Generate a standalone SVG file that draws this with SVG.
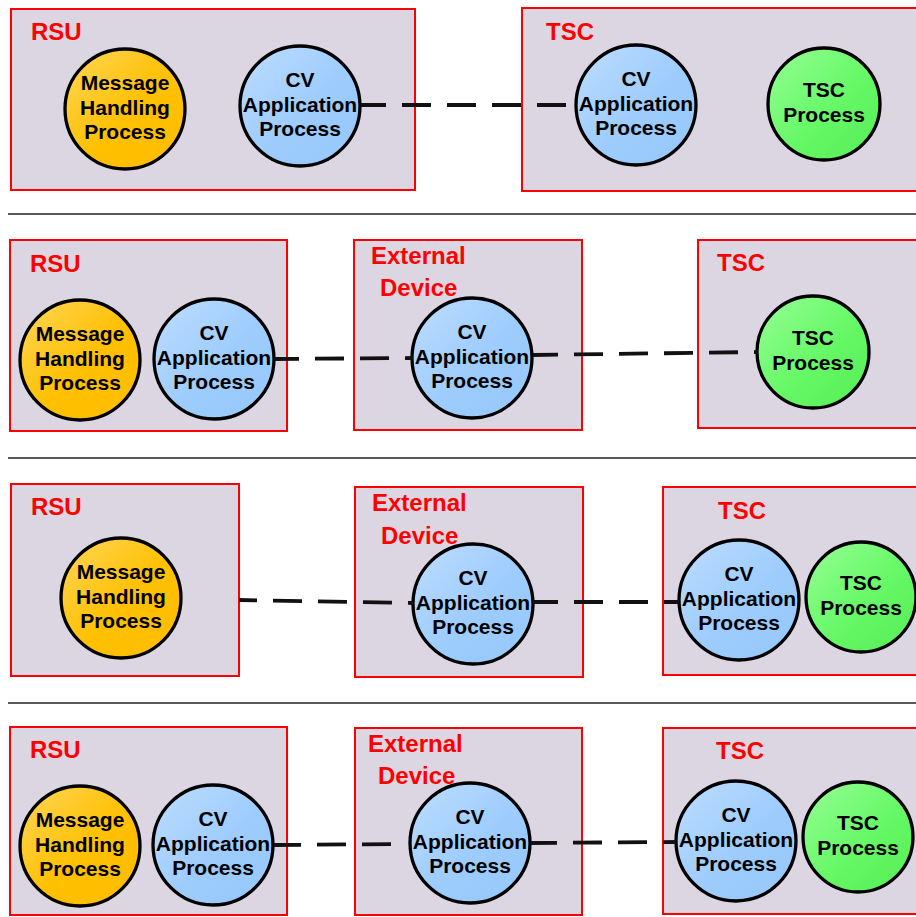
<svg xmlns="http://www.w3.org/2000/svg" width="916" height="917" viewBox="0 0 916 917">
  <defs>
    <linearGradient id="gOrange" x1="0" y1="0" x2="1" y2="1">
      <stop offset="0" stop-color="#FFD65A"/>
      <stop offset="0.55" stop-color="#FFC000"/>
      <stop offset="1" stop-color="#FFBE00"/>
    </linearGradient>
    <linearGradient id="gBlue" x1="0" y1="0" x2="1" y2="1">
      <stop offset="0" stop-color="#BEDDFF"/>
      <stop offset="0.55" stop-color="#9DCCFD"/>
      <stop offset="1" stop-color="#96C8FA"/>
    </linearGradient>
    <linearGradient id="gGreen" x1="0" y1="0" x2="1" y2="1">
      <stop offset="0" stop-color="#96FF96"/>
      <stop offset="0.55" stop-color="#66F866"/>
      <stop offset="1" stop-color="#55EE55"/>
    </linearGradient>
    <style>
      .box { fill: #DCD6E3; stroke: #FF0000; stroke-width: 2; }
      .lbl { font-family: "Liberation Sans", Arial, sans-serif; font-weight: bold; font-size: 24px; fill: #FF0000; }
      .proc { stroke: #000; stroke-width: 3.3; }
      .mh { fill: url(#gOrange); }
      .cv { fill: url(#gBlue); }
      .tp { fill: url(#gGreen); }
      .ptxt { font-family: "Liberation Sans", Arial, sans-serif; font-weight: bold; font-size: 21px; fill: #000; text-anchor: middle; }
      .sep { stroke: #222; stroke-width: 1.5; }
      .link { stroke: #111; stroke-width: 3.8; stroke-dasharray: 29 16; fill: none; }
    </style>
  </defs>

  <!-- separators between scenarios -->
  <g id="separators">
    <line class="sep" x1="8" y1="214" x2="916" y2="214"/>
    <line class="sep" x1="8" y1="458" x2="916" y2="458"/>
    <line class="sep" x1="8" y1="703" x2="916" y2="703"/>
  </g>

  <!-- scenario 1 -->
  <g id="s1-rsu">
    <rect class="box" x="11" y="9" width="404" height="181"/>
    <text class="lbl" x="31" y="40">RSU</text>
  </g>
  <g id="s1-tsc">
    <rect class="box" x="522" y="8" width="410" height="183"/>
    <text class="lbl" x="546" y="40">TSC</text>
  </g>
  <g id="s1-mh">
    <circle class="proc mh" cx="125" cy="109" r="60"/>
    <text class="ptxt" x="125"><tspan x="125" y="90">Message</tspan><tspan x="125" y="114.5">Handling</tspan><tspan x="125" y="139">Process</tspan></text>
  </g>
  <g id="s1-cv-rsu">
    <circle class="proc cv" cx="300" cy="106" r="60"/>
    <text class="ptxt" x="300"><tspan x="300" y="87">CV</tspan><tspan x="300" y="111.5">Application</tspan><tspan x="300" y="136">Process</tspan></text>
  </g>
  <g id="s1-cv-tsc">
    <circle class="proc cv" cx="636" cy="105" r="60"/>
    <text class="ptxt" x="636"><tspan x="636" y="86">CV</tspan><tspan x="636" y="110.5">Application</tspan><tspan x="636" y="135">Process</tspan></text>
  </g>
  <g id="s1-tscp">
    <circle class="proc tp" cx="824" cy="104" r="56"/>
    <text class="ptxt" x="824"><tspan x="824" y="97">TSC</tspan><tspan x="824" y="122">Process</tspan></text>
  </g>

  <!-- scenario 2 -->
  <g id="s2-rsu">
    <rect class="box" x="10" y="240" width="277" height="191"/>
    <text class="lbl" x="30" y="272">RSU</text>
  </g>
  <g id="s2-ext">
    <rect class="box" x="354" y="240" width="228" height="190"/>
    <text class="lbl" x="371" y="264">External</text>
    <text class="lbl" x="380" y="296">Device</text>
  </g>
  <g id="s2-tsc">
    <rect class="box" x="698" y="240" width="230" height="188"/>
    <text class="lbl" x="717" y="271">TSC</text>
  </g>
  <g id="s2-mh">
    <circle class="proc mh" cx="80" cy="360" r="60"/>
    <text class="ptxt" x="80"><tspan x="80" y="341">Message</tspan><tspan x="80" y="365.5">Handling</tspan><tspan x="80" y="390">Process</tspan></text>
  </g>
  <g id="s2-cv-rsu">
    <circle class="proc cv" cx="214" cy="359" r="60"/>
    <text class="ptxt" x="214"><tspan x="214" y="340">CV</tspan><tspan x="214" y="364.5">Application</tspan><tspan x="214" y="389">Process</tspan></text>
  </g>
  <g id="s2-cv-ext">
    <circle class="proc cv" cx="472" cy="358" r="60"/>
    <text class="ptxt" x="472"><tspan x="472" y="339">CV</tspan><tspan x="472" y="363.5">Application</tspan><tspan x="472" y="388">Process</tspan></text>
  </g>
  <g id="s2-tscp">
    <circle class="proc tp" cx="813" cy="352" r="56"/>
    <text class="ptxt" x="813"><tspan x="813" y="345">TSC</tspan><tspan x="813" y="370">Process</tspan></text>
  </g>

  <!-- scenario 3 -->
  <g id="s3-rsu">
    <rect class="box" x="11" y="484" width="228" height="192"/>
    <text class="lbl" x="31" y="515">RSU</text>
  </g>
  <g id="s3-ext">
    <rect class="box" x="355" y="487" width="228" height="190"/>
    <text class="lbl" x="372" y="511">External</text>
    <text class="lbl" x="381" y="544">Device</text>
  </g>
  <g id="s3-tsc">
    <rect class="box" x="663" y="487" width="265" height="188"/>
    <text class="lbl" x="718" y="519">TSC</text>
  </g>
  <g id="s3-mh">
    <circle class="proc mh" cx="121" cy="598" r="60"/>
    <text class="ptxt" x="121"><tspan x="121" y="579">Message</tspan><tspan x="121" y="603.5">Handling</tspan><tspan x="121" y="628">Process</tspan></text>
  </g>
  <g id="s3-cv-ext">
    <circle class="proc cv" cx="473" cy="604" r="60"/>
    <text class="ptxt" x="473"><tspan x="473" y="585">CV</tspan><tspan x="473" y="609.5">Application</tspan><tspan x="473" y="634">Process</tspan></text>
  </g>
  <g id="s3-cv-tsc">
    <circle class="proc cv" cx="739" cy="600" r="60"/>
    <text class="ptxt" x="739"><tspan x="739" y="581">CV</tspan><tspan x="739" y="605.5">Application</tspan><tspan x="739" y="630">Process</tspan></text>
  </g>
  <g id="s3-tscp">
    <circle class="proc tp" cx="861" cy="597" r="55"/>
    <text class="ptxt" x="861"><tspan x="861" y="590">TSC</tspan><tspan x="861" y="615">Process</tspan></text>
  </g>

  <!-- scenario 4 -->
  <g id="s4-rsu">
    <rect class="box" x="10" y="727" width="277" height="188"/>
    <text class="lbl" x="30" y="758">RSU</text>
  </g>
  <g id="s4-ext">
    <rect class="box" x="355" y="728" width="227" height="187"/>
    <text class="lbl" x="368" y="752">External</text>
    <text class="lbl" x="378" y="784">Device</text>
  </g>
  <g id="s4-tsc">
    <rect class="box" x="663" y="728" width="265" height="186"/>
    <text class="lbl" x="716" y="759">TSC</text>
  </g>
  <g id="s4-mh">
    <circle class="proc mh" cx="80" cy="846" r="60"/>
    <text class="ptxt" x="80"><tspan x="80" y="827">Message</tspan><tspan x="80" y="851.5">Handling</tspan><tspan x="80" y="876">Process</tspan></text>
  </g>
  <g id="s4-cv-rsu">
    <circle class="proc cv" cx="213" cy="845" r="60"/>
    <text class="ptxt" x="213"><tspan x="213" y="826">CV</tspan><tspan x="213" y="850.5">Application</tspan><tspan x="213" y="875">Process</tspan></text>
  </g>
  <g id="s4-cv-ext">
    <circle class="proc cv" cx="470" cy="843" r="60"/>
    <text class="ptxt" x="470"><tspan x="470" y="824">CV</tspan><tspan x="470" y="848.5">Application</tspan><tspan x="470" y="873">Process</tspan></text>
  </g>
  <g id="s4-cv-tsc">
    <circle class="proc cv" cx="736" cy="841" r="60"/>
    <text class="ptxt" x="736"><tspan x="736" y="822">CV</tspan><tspan x="736" y="846.5">Application</tspan><tspan x="736" y="871">Process</tspan></text>
  </g>
  <g id="s4-tscp">
    <circle class="proc tp" cx="858" cy="837" r="55"/>
    <text class="ptxt" x="858"><tspan x="858" y="830">TSC</tspan><tspan x="858" y="855">Process</tspan></text>
  </g>

  <!-- dashed communication links -->
  <g id="connectors">
    <line class="link" x1="361" y1="105" x2="567" y2="105" stroke-dashoffset="4"/>
    <line class="link" x1="274" y1="359" x2="413" y2="358" stroke-dashoffset="4"/>
    <line class="link" x1="533" y1="355" x2="758" y2="352" stroke-dashoffset="4"/>
    <line class="link" x1="239" y1="600" x2="413" y2="603" stroke-dashoffset="11"/>
    <line class="link" x1="533" y1="602" x2="679" y2="602" stroke-dashoffset="4"/>
    <line class="link" x1="274" y1="845" x2="406" y2="844" stroke-dashoffset="2"/>
    <line class="link" x1="531" y1="843" x2="676" y2="842" stroke-dashoffset="3"/>
  </g>
</svg>
